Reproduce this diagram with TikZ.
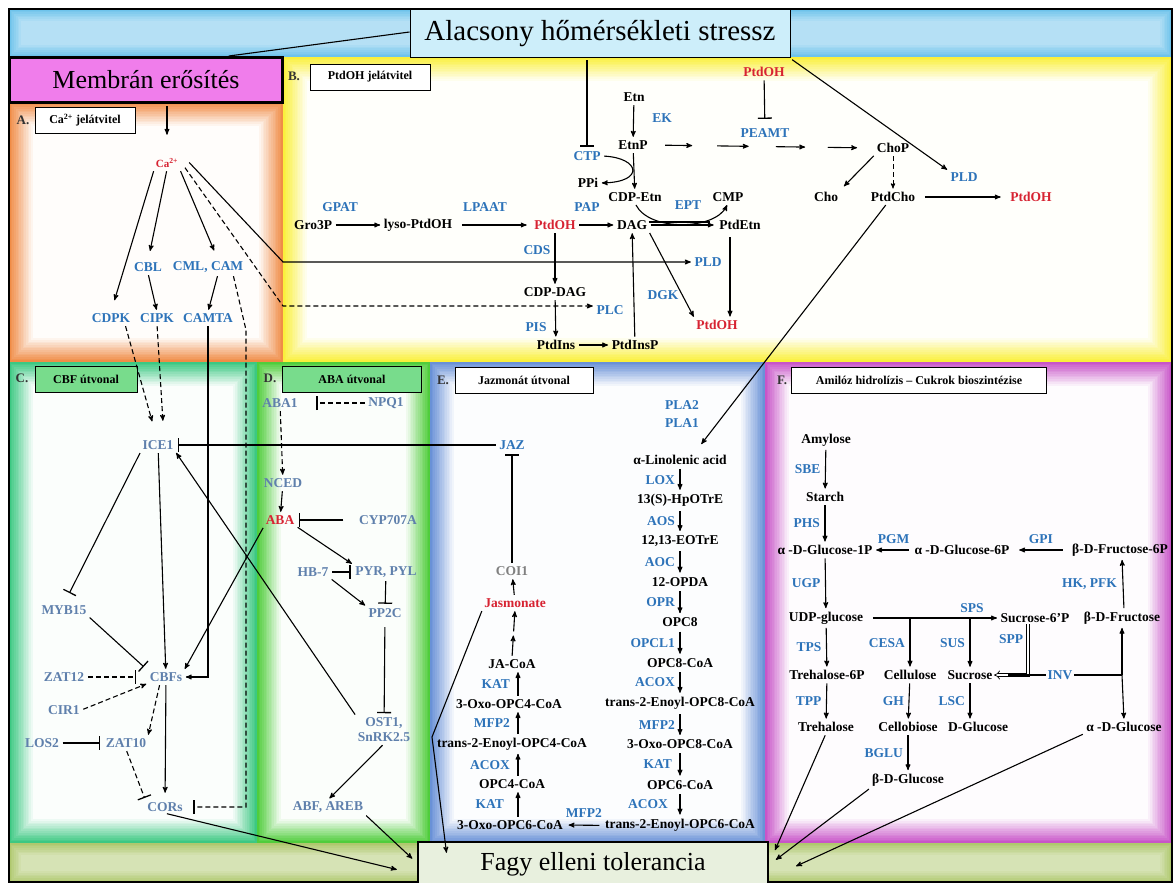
\documentclass[tikz,border=0pt]{standalone}
\usepackage{fontspec}
\setmainfont{Liberation Serif}
\usetikzlibrary{arrows, arrows.meta, calc}

\definecolor{enzblue}{RGB}{45,115,185}
\definecolor{slate}{RGB}{95,128,172}
\definecolor{hotred}{RGB}{215,35,50}
\definecolor{skyc}{RGB}{110,195,235}
\definecolor{orangec}{RGB}{240,140,70}
\definecolor{yellowc}{RGB}{250,240,60}
\definecolor{tealc}{RGB}{60,200,130}
\definecolor{greenc}{RGB}{80,205,60}
\definecolor{bluec}{RGB}{105,145,215}
\definecolor{violetc}{RGB}{200,85,200}
\definecolor{olivec}{RGB}{175,200,110}
\definecolor{pinkc}{RGB}{240,125,235}
\definecolor{cbfgreen}{RGB}{120,220,140}
\definecolor{titlec}{RGB}{205,238,250}
\definecolor{fagyc}{RGB}{232,240,222}

\newcommand{\labfont}{\bfseries\fontsize{13.5}{15}\selectfont}
% coloured panel, fading to white inside
\newcommand{\panel}[6][14]{%
  \foreach \i in {0,...,#1}{%
    \pgfmathtruncatemacro{\pc}{100-\i*7}%
    \fill[#6!\pc!white] (#2+\i*1.7,#3+\i*1.7) rectangle (#4-\i*1.7,#5-\i*1.7);
  }}

\tikzset{
  >=stealth',
  met/.style={font=\labfont, inner sep=1.5pt},
  enz/.style={met, text=enzblue},
  gen/.style={met, text=slate},
  hot/.style={met, text=hotred},
  act/.style={->, line width=1.1pt, shorten >=2pt, shorten <=2pt},
  dact/.style={act, dash pattern=on 5pt off 3pt},
  chainarr/.style={act, shorten >=3pt, shorten <=3pt},
  inh/.style={-{Bar[width=14pt, line width=1.3pt]}, line width=1.1pt, shorten <=2pt, shorten >=3pt},
  dinh/.style={inh, dash pattern=on 5pt off 3pt},
  hdr/.style={draw, line width=0.8pt, fill=white, font=\bfseries\fontsize{12}{14}\selectfont, minimum height=26pt, inner sep=2pt},
  tag/.style={font=\bfseries\fontsize{13}{15}\selectfont, text=black!80},
  bigbox/.style={draw, font=\fontsize{26}{30}\selectfont, inner sep=0pt}
}

\begin{document}
\begin{tikzpicture}[x=1pt, y=-1pt, node distance=40.6pt]
\useasboundingbox (0,0) rectangle (1176,883);

% backgrounds
\panel[7]{9}{9}{1172}{57}{skyc}
\panel{283}{57}{1172}{362}{yellowc}
\panel{9}{102}{283}{362}{orangec}
\panel{9}{362}{257}{843}{tealc}
\panel{257}{362}{430}{843}{greenc}
\panel{430}{362}{765}{843}{bluec}
\panel{765}{362}{1172}{843}{violetc}
\panel[7]{9}{843}{1172}{883}{olivec}
\draw[line width=1.5pt] (9,9) rectangle (1172,882);

% main boxes
\node[bigbox, fill=titlec, minimum width=380pt, minimum height=48pt, line width=1pt, font=\fontsize{29}{33}\selectfont] (stress) at (600,34) {Alacsony hőmérsékleti stressz};
\node[bigbox, fill=pinkc, minimum width=273pt, minimum height=45pt, line width=3pt] (memb) at (146,80) {Membrán erősítés};
\node[bigbox, fill=fagyc, minimum width=350pt, minimum height=44pt, line width=2.5pt] (fagy) at (593,864) {Fagy elleni tolerancia};

% panel titles
\node[tag] at (23,120) {A.};
\node[hdr, minimum width=100pt] (hA) at (85,120) {Ca\textsuperscript{2+} jelátvitel};
\node[tag] at (294,76) {B.};
\node[hdr, minimum width=120pt] (hB) at (370,77) {PtdOH jelátvitel};
\node[tag] at (22,378) {C.};
\node[hdr, minimum width=102pt, fill=cbfgreen] (hC) at (86,379) {CBF útvonal};
\node[tag] at (270,378) {D.};
\node[hdr, minimum width=139pt, fill=cbfgreen] (hD) at (352,379) {ABA útvonal};
\node[tag] at (443,380) {E.};
\node[hdr, minimum width=138pt] (hE) at (524,380) {Jazmonát útvonal};
\node[tag] at (782,380) {F.};
\node[hdr, minimum width=255pt] (hF) at (919,380) {Amilóz hidrolízis – Cukrok bioszintézise};

% A: Ca2+
\node[hot, font=\bfseries\fontsize{11}{13}\selectfont] (ca) at (167,163) {Ca\textsuperscript{2+}};
\node[enz] (cbl) at (148,267) {CBL};
\node[enz] (cml) at (208,267) {CML, CAM};
\node[enz] (cdpk) at (111,318) {CDPK};
\node[enz] (cipk) at (157,318) {CIPK};
\node[enz] (camta) at (208,318) {CAMTA};
\coordinate (kA) at (283,262);
\coordinate (kB) at (283,306);
\coordinate (kC) at (246,330);

% B: PtdOH
\node[met] (etn) at (634,97) {Etn};
\node[enz] (ek) at (662,118) {EK};
\node[met] (etnp) at (633,145) {EtnP};
\node[enz] (ctp) at (587,156) {CTP};
\node[met] (ppi) at (588,183) {PPi};
\node[met] (cdpetn) at (635,197) {CDP-Etn};
\node[enz] (pap) at (587,207) {PAP};
\node[enz] (ept) at (688,205) {EPT};
\node[met] (cmp) at (728,197) {CMP};
\node[met] (gro3p) at (313,225) {Gro3P};
\node[enz] (gpat) at (340,207) {GPAT};
\node[met] (lyso) at (418,225) {lyso-PtdOH};
\node[enz] (lpaat) at (485,207) {LPAAT};
\node[hot] (ptdoh1) at (555,225) {PtdOH};
\node[met] (dag) at (632,225) {DAG};
\node[met] (ptdetn) at (740,225) {PtdEtn};
\node[hot] (ptdohtop) at (764,72) {PtdOH};
\node[enz] (peamt) at (765,133) {PEAMT};
\node[met] (chop) at (893,148) {ChoP};
\node[met] (cho) at (826,197) {Cho};
\node[met] (ptdcho) at (893,197) {PtdCho};
\node[enz] (pld1) at (964,177) {PLD};
\node[hot] (ptdoh3) at (1031,197) {PtdOH};
\node[enz] (cds) at (537,250) {CDS};
\node[enz] (pld2) at (708,262) {PLD};
\node[met] (cdpdag) at (555,292) {CDP-DAG};
\node[enz] (dgk) at (663,295) {DGK};
\node[enz] (plc) at (610,310) {PLC};
\node[enz] (pis) at (536,327) {PIS};
\node[met] (ptdins) at (556,345) {PtdIns};
\node[met] (ptdinsp) at (635,345) {PtdInsP};
\node[hot] (ptdoh2) at (717,325) {PtdOH};

% C: CBF
\node[gen] (ice1) at (158,445) {ICE1};
\node[gen] (myb15) at (64,610) {MYB15};
\node[gen] (cbfs) at (166,677) {CBFs};
\node[gen] (zat12) at (64,677) {ZAT12};
\node[gen] (cir1) at (64,710) {CIR1};
\node[gen] (los2) at (42,743) {LOS2};
\node[gen] (zat10) at (126,743) {ZAT10};
\node[gen] (cors) at (165,807) {CORs};

% D: ABA
\node[gen] (aba1) at (280,403) {ABA1};
\node[gen] (npq1) at (386,403) {NPQ1};
\node[gen] (nced) at (283,483) {NCED};
\node[hot] (aba) at (280,520) {ABA};
\node[gen] (cyp) at (388,520) {CYP707A};
\node[gen] (hb7) at (313,572) {HB-7};
\node[gen] (pyr) at (386,572) {PYR, PYL};
\node[gen] (pp2c) at (385,613) {PP2C};
\node[gen, align=center] (ost1) at (384,730) {OST1,\\SnRK2.5};
\node[gen] (abf) at (328,807) {ABF, AREB};

% E: jasmonate
\node[enz] (jaz) at (512,445) {JAZ};
\node[met, text=black!50] (coi1) at (512,571) {COI1};
\node[hot] (jas) at (515,603) {Jasmonate};
\node[met] (jaco) at (512,664) {JA-CoA};
\node[met] (oxo4) at (509,704) {3-Oxo-OPC4-CoA};
\node[met] (trans4) at (512,744) {trans-2-Enoyl-OPC4-CoA};
\node[met] (opc4) at (512,784) {OPC4-CoA};
\node[met] (oxo6) at (510,825) {3-Oxo-OPC6-CoA};
\coordinate (ecol) at (518,0);
\node[enz] (pla2) at (682,405) {PLA2};
\node[enz] (pla1) at (682,423) {PLA1};
\node[met] (alin) at (680,460) {α-Linolenic acid};
\node[met, below of=alin] (hpotre) {13(S)-HpOTrE};
\node[met, below of=hpotre] (eotre) {12,13-EOTrE};
\node[met, below of=eotre] (opda) {12-OPDA};
\node[met, below of=opda] (opc8) {OPC8};
\node[met, below of=opc8] (opc8coa) {OPC8-CoA};
\node[met, below of=opc8coa] (trans8) {trans-2-Enoyl-OPC8-CoA};
\node[met, below of=trans8] (oxo8) {3-Oxo-OPC8-CoA};
\node[met, below of=oxo8] (opc6) {OPC6-CoA};
\node[met, below of=opc6] (trans6) {trans-2-Enoyl-OPC6-CoA};

% F: sugars
\node[met] (amylose) at (826,440) {Amylose};
\node[met] (starch) at (825,497) {Starch};
\node[met] (g1p) at (825,550) {α -D-Glucose-1P};
\node[met] (g6p) at (962,550) {α -D-Glucose-6P};
\node[met] (f6p) at (1120,550) {β-D-Fructose-6P};
\node[met] (udp) at (826,618) {UDP-glucose};
\node[met] (suc6p) at (1035,618) {Sucrose-6’P};
\node[met] (bfru) at (1122,618) {β-D-Fructose};
\node[met] (tre6p) at (827,675) {Trehalose-6P};
\node[met] (cellulose) at (910,675) {Cellulose};
\node[met] (sucrose) at (970,675) {Sucrose};
\node[enz] (inv) at (1060,675) {INV};
\node[met] (trehalose) at (826,727) {Trehalose};
\node[met] (cellobiose) at (908,727) {Cellobiose};
\node[met] (dglc) at (978,727) {D-Glucose};
\node[met] (aglc) at (1124,727) {α -D-Glucose};
\node[met] (bglc) at (908,780) {β-D-Glucose};
\coordinate (invj) at (bfru |- inv);
\coordinate (kE) at (432,737);

% stress links
\draw[line width=1.1pt] ([yshift=2pt]stress.west) -- ($(memb.north)!0.6!(memb.north east)$);
\draw[act] (stress.south east) -- (pld1.north west);
\draw[inh] (stress.south -| ctp) -- (ctp.north);
\draw[act, shorten >=22pt] (memb.south -| ca) -- (ca.north);

% A links
\draw[act, shorten >=12pt] (ca.south west) -- (cdpk.north);
\draw[act, shorten >=10pt] (ca.south) -- (cbl.north);
\draw[act, shorten >=10pt] (ca.south east) -- ([xshift=10pt]cml.north);
\draw[act] ([xshift=8pt,yshift=2pt]ca.east) -- (kA) -- (pld2.west);
\draw[dact] ([xshift=4pt,yshift=-3pt]ca.east) -- (kB) -- (kB -| plc.west);
\draw[act] (cbl.south) -- (cipk.north);
\draw[act] ([xshift=10pt]cml.south) -- (camta.north);
\draw[dinh, shorten >=0pt] ([xshift=25pt]cml.south) -- (kC) -- (kC |- cors) -- ([xshift=9pt]cors.east);
\draw[dact, shorten >=18pt] ([xshift=14pt]cdpk.south) -- ([xshift=-1pt]ice1.north);
\draw[dact, shorten >=18pt] (cipk.south) -- ([xshift=6pt]ice1.north);
\draw[act] (camta.south) -- (camta |- cbfs) -- (cbfs.east);

% B links
\draw[act] (etn) -- (etnp);
\foreach \p/\q in {0.07/0.19, 0.30/0.44, 0.56/0.69, 0.79/0.92}
  \draw[act, shorten >=0pt, shorten <=0pt] ($(etnp.east)!\p!(chop.west)$) -- ($(etnp.east)!\q!(chop.west)$);
\draw[inh, shorten >=8pt] (ptdohtop) -- (peamt);
\draw[act] (etnp) -- (cdpetn);
\draw[act] (ctp.east) .. controls (640,158) and (645,182) .. (ppi.east);
\draw[act] (cdpetn.south) .. controls (650,232) and (715,230) .. (cmp.south);
\draw[act] (gro3p) -- (lyso);
\draw[act, shorten <=8pt, shorten >=6pt] (lyso) -- (ptdoh1);
\draw[act] (ptdoh1) -- (dag);
\draw[act, shorten >=4pt] (dag) -- (ptdetn);
\draw[line width=1.1pt, shorten >=8pt] ([yshift=3pt]dag.east) -- ([yshift=3pt]ptdetn.west);
\draw[act, shorten >=6pt] (chop.south west) -- (cho.north east);
\draw[dact, line width=0.9pt] (chop) -- (ptdcho);
\draw[act, shorten <=8pt, shorten >=8pt] (ptdcho) -- (ptdoh3);
\draw[act] (ptdoh1) -- (cdpdag);
\draw[act] (cdpdag) -- (ptdins);
\draw[act] (ptdins) -- (ptdinsp);
\draw[act] (ptdinsp) -- (dag);
\draw[act] (dag.south east) -- (ptdoh2.north west);
\draw[act, shorten <=6pt] ([xshift=-10pt]ptdetn.south) -- ([xshift=13pt]ptdoh2.north);
\draw[act, shorten >=12pt] ([xshift=-6pt]ptdcho.south) -- ([xshift=14pt]alin.north);

% C links
\draw[inh] (jaz.west) -- (ice1.east);
\draw[inh, shorten >=12pt] (ice1.south west) -- (myb15.north);
\draw[inh, shorten >=6pt] (myb15.south east) -- (cbfs.north west);
\draw[act] (ice1) -- (cbfs);
\draw[dinh, shorten >=12pt] (zat12.east) -- (cbfs.west);
\draw[dact] (cir1.east) -- (cbfs.south west);
\draw[dact] ([xshift=-6pt]cbfs.south) -- (zat10.north east);
\draw[inh, shorten >=4pt] (los2.east) -- (zat10.west);
\draw[dinh] (zat10.south) -- (cors.north west);
\draw[act, shorten >=8pt] (cbfs) -- (cors);
\draw[act] (cors.south) -- ([xshift=-18pt,yshift=-6pt]fagy.west);

% D links
\draw[dinh, shorten >=17pt] (npq1.west) -- (aba1.east);
\draw[dact] (aba1) -- (nced);
\draw[act] (nced) -- (aba);
\draw[inh, shorten <=14pt] (cyp.west) -- (aba.east);
\draw[act] (aba.south east) -- (pyr.north west);
\draw[inh] (hb7.east) -- (pyr.west);
\draw[act] (hb7.south east) -- (pp2c.north west);
\draw[inh] (pyr) -- (pp2c);
\draw[inh, shorten <=8pt] (pp2c) -- (ost1);
\draw[act] (ost1.north west) -- (ice1.south east);
\draw[act] (aba.south west) -- (cbfs.north east);
\draw[act] (ost1.south) -- (abf.north);
\draw[act] (abf.south east) -- ([xshift=-3pt,yshift=4pt]fagy.west);

% E links
\draw[inh] (coi1.north) -- (jaz.south);
\draw[act] (jas) -- (coi1);
\coordinate (jmid) at ($(jaco.north)!0.5!(jas.south)$);
\draw[act] (jaco.north) -- (jmid);
\draw[act] (jmid) -- (jas.south);
\draw[act] (oxo4.north -| ecol) -- (jaco.south -| ecol) node[midway, left=6pt, enz] {KAT};
\draw[act] (trans4.north -| ecol) -- (oxo4.south -| ecol) node[midway, left=6pt, enz] {MFP2};
\draw[act] (opc4.north -| ecol) -- (trans4.south -| ecol) node[midway, left=6pt, enz] {ACOX};
\draw[act] (oxo6.north -| ecol) -- (opc4.south -| ecol) node[midway, left=12pt, enz] {KAT};
\draw[act, shorten <=4pt, shorten >=4pt] (trans6.west) -- (oxo6.east) node[midway, above=6pt, enz] {MFP2};
\draw[chainarr] (alin) -- node[enz, left=3pt] {LOX} (hpotre);
\draw[chainarr] (hpotre) -- node[enz, left=3pt] {AOS} (eotre);
\draw[chainarr] (eotre) -- node[enz, left=3pt] {AOC} (opda);
\draw[chainarr] (opda) -- node[enz, left=3pt] {OPR} (opc8);
\draw[chainarr] (opc8) -- node[enz, left=3pt] {OPCL1} (opc8coa);
\draw[chainarr] (opc8coa) -- node[enz, left=3pt] {ACOX} (trans8);
\draw[chainarr] (trans8) -- node[enz, left=3pt] {MFP2} (oxo8);
\draw[chainarr] (oxo8) -- node[enz, left=6pt] {KAT} (opc6);
\draw[chainarr] (opc6) -- node[enz, left=10pt] {ACOX} (trans6);
\draw[act] (jas.south west) -- (kE) -- ([xshift=30pt,yshift=-14pt]fagy.north west);

% F links
\draw[act] (amylose) -- node[enz, left=3pt] {SBE} (starch);
\draw[act] (starch) -- node[enz, left=3pt] {PHS} (g1p);
\draw[act, shorten <=4pt] (g6p) -- node[enz, above=4pt] {PGM} (g1p);
\draw[act, shorten <=8pt, shorten >=8pt] (f6p) -- node[enz, above=4pt] {GPI} (g6p);
\draw[act] (g1p) -- node[enz, left=3pt] {UGP} (udp);
\draw[act] ([xshift=2pt]bfru.north) -- node[enz, left=4pt] {HK, PFK} ([xshift=2pt]f6p.south);
\draw[act, shorten <=8pt] (udp) -- node[enz, pos=0.8, above=3pt] {SPS} (suc6p);
\draw[act, shorten <=0pt] (cellulose |- udp) -- (cellulose) node[midway, left=3pt, enz] {CESA};
\draw[act, shorten <=0pt] (sucrose |- udp) -- (sucrose) node[midway, left=3pt, enz] {SUS};
\draw[act] (udp) -- node[enz, left=3pt] {TPS} (tre6p);
\draw[act] (tre6p) -- node[enz, left=3pt] {TPP} (trehalose);
\draw[act] (cellulose) -- node[enz, left=3pt] {GH} (cellobiose);
\draw[act] (sucrose.south) -- node[enz, left=3pt] {LSC} (sucrose.south |- dglc.north);
\draw[act] (cellobiose) -- node[enz, left=3pt] {BGLU} (bglc);
\draw[-{Implies}, double, double distance=2.4pt, line width=0.7pt] ([xshift=-7pt]suc6p.south) -- node[enz, pos=0.3, left=3pt] {SPP} ([xshift=-7pt]suc6p.south |- sucrose.east) -- (sucrose.east);
\draw[line width=1.1pt] (inv.west) -- ([xshift=14pt]sucrose.east);
\draw[line width=1.1pt] (inv.east) -- (invj);
\draw[act, shorten <=0pt] (invj) -- (bfru.south);
\draw[act, shorten <=0pt] (invj) -- (aglc.north);
\draw[act] (trehalose.south) -- ([xshift=5pt,yshift=12pt]fagy.east);
\draw[act] (bglc.south west) -- ([xshift=5pt,yshift=3pt]fagy.east);
\draw[act] (aglc.south west) -- ([xshift=25pt,yshift=-3pt]fagy.east);
\end{tikzpicture}
\end{document}
